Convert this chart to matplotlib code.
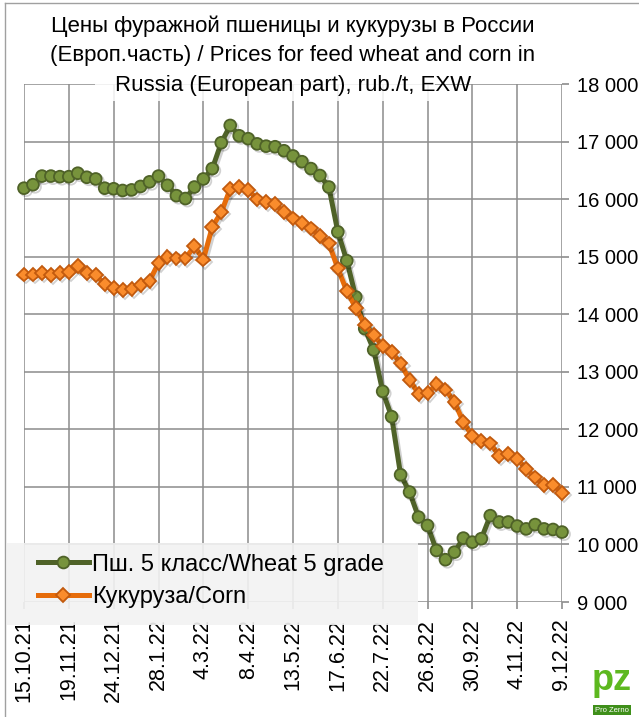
import matplotlib
matplotlib.use("Agg")
import matplotlib.pyplot as plt
import matplotlib.patheffects as pe
from matplotlib.patches import Rectangle
from matplotlib.lines import Line2D
import pandas as pd

plt.rcParams['font.family'] = ['Liberation Sans', 'DejaVu Sans']

# weekly dates, 15.10.21 .. 9.12.22
dates = pd.date_range("2021-10-15", periods=61, freq="7D")

# rub./t
wheat = [16190, 16250, 16400, 16400, 16390, 16390, 16450, 16380, 16350, 16190,
         16180, 16150, 16160, 16220, 16300, 16400, 16240, 16060, 16010, 16210,
         16350, 16530, 16980, 17280, 17100, 17050, 16960, 16920, 16910, 16840,
         16750, 16650, 16530, 16410, 16210, 15430, 14930, 14300, 13750, 13380,
         12660, 12220, 11210, 10910, 10475, 10330, 9896, 9735, 9866, 10110,
         10040, 10100, 10500, 10390, 10390, 10320, 10270, 10345, 10270, 10260,
         10215]
corn = [14690, 14690, 14720, 14680, 14710, 14735, 14835, 14710, 14680, 14520,
        14450, 14420, 14435, 14505, 14580, 14890, 15000, 14970, 14970, 15180,
        14950, 15520, 15770, 16180, 16210, 16160, 15995, 15945, 15915, 15770,
        15665, 15590, 15490, 15360, 15230, 14795, 14400, 14110, 13820, 13635,
        13450, 13344, 13145, 12855, 12620, 12625, 12783, 12690, 12475, 12127,
        11878, 11800, 11755, 11540, 11570, 11480, 11316, 11165, 11035, 11035,
        10892]

labels = ["Пш. 5 класс/Wheat 5 grade", "Кукуруза/Corn"]
title_lines = ["Цены фуражной пшеницы и кукурузы в России",
               "(Европ.часть) / Prices for feed wheat and corn in",
               "Russia (European part), rub./t, EXW"]

W, H = 639, 717
fig = plt.figure(figsize=(W / 100, H / 100), dpi=100)
ax = fig.add_axes([24 / W, 115 / H, 538 / W, 518 / H])

x = list(range(len(dates)))
shadow = [pe.SimpleLineShadow(offset=(1.5, -1.5), shadow_color='k', alpha=0.18), pe.Normal()]

ax.plot(x, wheat, color='#4f6228', lw=3.6, marker='o', ms=8.5, mfc='#77933c',
        mec='#4f6228', mew=1.3, path_effects=shadow, zorder=3, clip_on=False)
ax.plot(x, corn, color='#e66c0a', lw=3.6, marker='D', ms=7, mfc='#fa8c2c',
        mec='#c25a0e', mew=1.3, path_effects=shadow, zorder=4, clip_on=False)

ax.set_xlim(0, 60)
ax.set_ylim(9000, 18000)
ticks = x[::5]
ax.set_xticks(ticks)
ax.set_xticklabels([f"{d.day}.{d.month}.{d.year % 100}" for d in dates[::5]],
                   rotation=90, fontsize=15.5)
yt = list(range(9000, 18001, 1000))
ax.set_yticks(yt)
ax.set_yticklabels([f"{v:,}".replace(",", " ") for v in yt], fontsize=14.5)
ax.yaxis.tick_right()
ax.tick_params(axis='x', length=5, width=1.2, color='#8c8c8c', pad=7)
ax.tick_params(axis='y', length=5, width=1.2, color='#8c8c8c', pad=6)
ax.grid(True, color='#8c8c8c', lw=1.1)
ax.set_axisbelow(True)
for s in ax.spines.values():
    s.set_visible(False)

# title with semi transparent white box over the grid
fig.patches.append(Rectangle((95 / W, 1 - 101 / H), 340 / W, 98 / H,
                             transform=fig.transFigure, facecolor='white',
                             alpha=0.85, edgecolor='none', zorder=1))
for yy, line in zip([26, 56, 85], title_lines):
    fig.text(293 / W, 1 - yy / H, line, ha='center', va='center', fontsize=16,
             zorder=6)

# legend box
fig.patches.append(Rectangle((7 / W, 92 / H), 411 / W, 82 / H,
                             transform=fig.transFigure, facecolor='#f2f2f2',
                             alpha=0.9, edgecolor='none', zorder=1))
handles = [Line2D([], [], color='#4f6228', lw=3.6, marker='o', ms=8.5,
                  mfc='#77933c', mec='#4f6228', mew=1.3),
           Line2D([], [], color='#e66c0a', lw=3.6, marker='D', ms=7,
                  mfc='#fa8c2c', mec='#c25a0e', mew=1.3)]
fig.legend(handles, labels, loc='center left', bbox_to_anchor=(38 / W, 1 - 581 / H),
           frameon=False, fontsize=17, borderpad=0, borderaxespad=0,
           handlelength=2.15, handletextpad=0.15, labelspacing=0.45)

# frame
fig.add_artist(Line2D([5 / W, 5 / W], [0, 1 - 3 / H], transform=fig.transFigure,
                      color='#a0a0a0', lw=1))
fig.add_artist(Line2D([5 / W, 1], [1 - 3 / H, 1 - 3 / H], transform=fig.transFigure,
                      color='#a0a0a0', lw=1))

# logo
fig.text(612 / W, 1 - 680 / H, "pz", ha='center', va='center', fontsize=26,
         fontweight='bold', color='#5db81f')
fig.text(612 / W, 1 - 710 / H, "Pro Zerno", ha='center', va='center', fontsize=5.5,
         color='white', bbox=dict(facecolor='#3f8f1a', edgecolor='none', pad=1.2))

fig.savefig("out.png", dpi=100)
